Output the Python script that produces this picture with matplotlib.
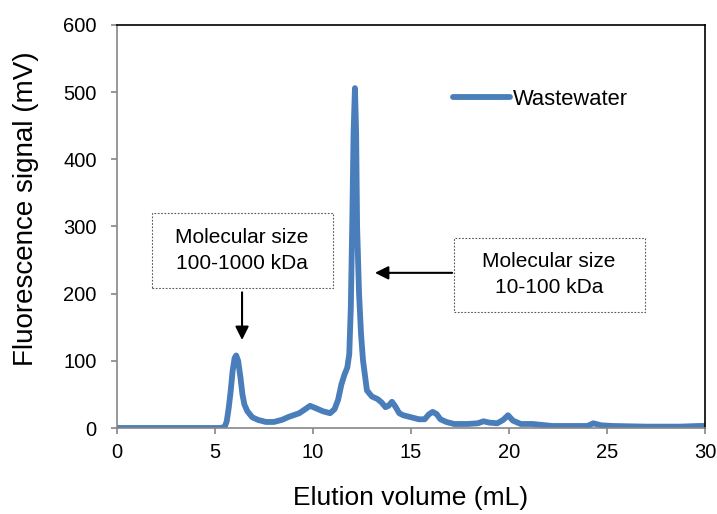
import matplotlib
matplotlib.use("Agg")
import matplotlib.pyplot as plt
from matplotlib.patches import Rectangle

plt.rcParams['font.family'] = ['Liberation Sans', 'DejaVu Sans']

elution_ml = [0, 5.0, 5.3, 5.5, 5.6, 5.7, 5.8, 5.9, 6.0, 6.08, 6.18, 6.3, 6.4, 6.5,
              6.65, 6.9, 7.2, 7.6, 8.0, 8.4, 8.8, 9.3, 9.6, 9.85, 10.1, 10.5, 10.87,
              11.1, 11.28, 11.45, 11.6, 11.75, 11.85, 11.93, 12.0, 12.07, 12.14, 12.2,
              12.25, 12.35, 12.45, 12.55, 12.75, 13.0, 13.3, 13.5, 13.7, 13.85, 14.03,
              14.2, 14.4, 14.6, 15.0, 15.4, 15.7, 15.9, 16.1, 16.3, 16.5, 16.8, 17.2,
              17.9, 18.4, 18.7, 19.0, 19.4, 19.7, 19.95, 20.2, 20.6, 21.2, 22.2, 23.5,
              24.0, 24.3, 24.7, 25.3, 27.0, 28.7, 29.7, 30.0]
signal_mv = [0, 0, 0, 2, 10, 30, 55, 85, 104, 108, 100, 75, 50, 35,
             25, 16, 12, 9, 9, 12, 17, 22, 28, 33, 30, 25, 22,
             28, 42, 65, 79, 90, 110, 180, 300, 440, 506, 440,
             300, 200, 140, 101, 56, 47, 43, 38, 31, 33, 39,
             32, 22, 19, 16, 13, 13, 20, 24, 21, 13, 9, 6,
             6, 7, 10, 8, 7, 12, 19, 11, 6, 6, 3, 3,
             3, 7, 4, 3, 2, 2, 3, 3]

x_ticks = [0, 5, 10, 15, 20, 25, 30]
y_ticks = [0, 100, 200, 300, 400, 500, 600]

fig = plt.figure(figsize=(7.17, 5.14), dpi=100)
ax = fig.add_axes([117/717, 1 - 428/514, (705-117)/717, (428-25)/514])

ax.plot(elution_ml, signal_mv, color='#4A7EBB', lw=4.2, solid_joinstyle='round',
        solid_capstyle='round', label='Wastewater')

ax.set_xlim(0, 30)
ax.set_ylim(0, 600)
ax.set_xticks(x_ticks)
ax.set_yticks(y_ticks)
ax.tick_params(axis='both', direction='out', length=4.5, width=1.2, color='#868686',
               labelsize=14.5)
ax.tick_params(axis='y', pad=10)
ax.tick_params(axis='x', pad=6.5)
for s in ('left', 'bottom'):
    ax.spines[s].set_color('#868686')
    ax.spines[s].set_linewidth(1.2)
for s in ('top', 'right'):
    ax.spines[s].set_color('black')
    ax.spines[s].set_linewidth(1.2)

ax.set_xlabel('Elution volume (mL)', fontsize=19, labelpad=17)
ax.set_ylabel('Fluorescence signal (mV)', fontsize=20)
ax.yaxis.set_label_coords(-0.132, 0.545)

leg = ax.legend(loc='center left', bbox_to_anchor=(0.537, 0.815), frameon=False,
                fontsize=15.8, handlelength=2.6, handletextpad=0.15)

# Annotation boxes
ax.add_patch(Rectangle((1.79, 208), 11.02 - 1.79, 320 - 208, fill=False,
                       ls=(0, (1.5, 1.5)), lw=0.8, ec='#555555', clip_on=False))
ax.text(6.38, 264, 'Molecular size\n100-1000 kDa', ha='center', va='center',
        fontsize=15, linespacing=1.45)
ax.annotate('', xy=(6.38, 131), xytext=(6.38, 202),
            arrowprops=dict(arrowstyle='-|>', color='black', lw=1.5,
                            mutation_scale=20, shrinkA=0, shrinkB=0))

ax.add_patch(Rectangle((17.19, 173), 26.94 - 17.19, 283 - 173, fill=False,
                       ls=(0, (1.5, 1.5)), lw=0.8, ec='#555555', clip_on=False))
ax.text(22.04, 228, 'Molecular size\n10-100 kDa', ha='center', va='center',
        fontsize=15, linespacing=1.45)
ax.annotate('', xy=(13.16, 231), xytext=(17.1, 231),
            arrowprops=dict(arrowstyle='-|>', color='black', lw=1.5,
                            mutation_scale=20, shrinkA=0, shrinkB=0))

fig.savefig('out.png', dpi=100)
